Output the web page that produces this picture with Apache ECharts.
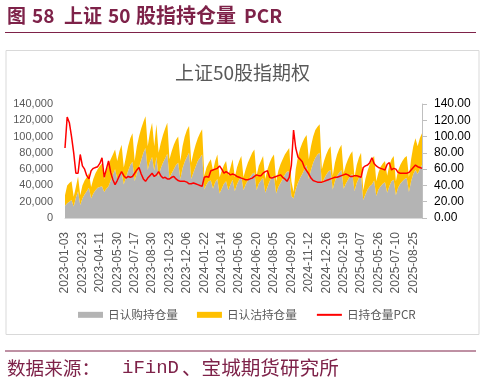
<!DOCTYPE html>
<html>
<head>
<meta charset="utf-8">
<script src="https://cdn.jsdelivr.net/npm/echarts@6/dist/echarts.min.js"></script>
<style>
html,body{margin:0;padding:0;background:#fff;}
#chart{width:485px;height:382px;}
</style>
</head>
<body>
<div id="chart"></div>
<script>
// Tick labels shown on the category axis (every 8th sample; samples every 4 trading days)
const tickLabels = ['2023-01-03','2023-02-23','2023-04-11','2023-05-30','2023-07-17','2023-08-30','2023-10-23','2023-12-06','2024-01-22','2024-03-14','2024-05-06','2024-06-20','2024-08-05','2024-09-20','2024-11-12','2024-12-26','2025-02-19','2025-04-07','2025-05-26','2025-07-10','2025-08-25'];

// 日认购持仓量 (call open interest)
const callOI = [
15000,18000,20000,22000,14000,25000,33000,16000,24000,29000,33000,37000,24000,30000,34000,37000,38000,39000,32000,36000,
39000,46000,53000,60000,48000,54000,57000,41000,50000,58000,65000,69000,45000,55000,62000,71000,80000,86000,59000,69000,
75000,58000,75000,51000,61000,68000,73000,79000,49000,55000,60000,65000,68000,48000,61000,69000,75000,80000,48000,56000,
63000,70000,74000,78000,35000,41000,45000,46000,36000,44000,48000,30000,36000,42000,45000,34000,41000,47000,33000,41000,
47000,51000,34000,41000,46000,50000,54000,56000,34000,42000,46000,49000,31000,38000,45000,50000,52000,30000,38000,43000,
48000,53000,57000,57000,27000,24000,35000,43000,49000,54000,60000,65000,48000,59000,68000,74000,78000,80000,42000,48000,
53000,57000,59000,35000,45000,52000,56000,59000,36000,42000,47000,52000,54000,33000,43000,49000,53000,22000,29000,35000,
39000,41000,46000,27000,35000,39000,42000,44000,31000,39000,45000,47000,28000,37000,42000,45000,48000,49000,32000,45000,
54000,59000,54000,60000,65000];

// 日认沽持仓量 (put open interest)
const putOI = [
13000,22000,23000,23000,12000,13000,18000,12000,16000,17000,17000,18000,14000,18000,21000,23000,26000,28000,16000,22000,
27000,26000,25000,24000,22000,28000,33000,21000,25000,30000,33000,35000,25000,33000,38000,39000,38000,39000,29000,36000,
42000,30000,40000,29000,31000,34000,37000,38000,23000,27000,30000,31000,32000,22000,27000,31000,33000,33000,20000,24000,
27000,28000,30000,31000,17000,21000,23000,26000,22000,26000,30000,20000,22000,23000,25000,18000,21000,25000,17000,21000,
23000,25000,16000,19000,22000,24000,26000,28000,18000,22000,24000,27000,17000,22000,23000,24000,26000,15000,20000,23000,
24000,25000,25000,29000,18000,8000,25000,32000,36000,38000,38000,37000,24000,29000,32000,34000,34000,35000,18000,22000,
25000,27000,29000,17000,23000,26000,29000,31000,19000,23000,25000,26000,28000,17000,22000,25000,27000,12000,19000,23000,
27000,31000,30000,18000,21000,24000,25000,26000,21000,26000,27000,29000,17000,21000,23000,25000,26000,27000,18000,27000,
34000,39000,34000,38000,39000];

// 日持仓量PCR
const pcr = [
86,124,117,100,80,55,55,78,64,60,52,48,58,61,62,63,67,74,50,60,
70,56,47,41,46,52,57,52,49,51,50,51,55,59,62,54,48,45,49,52,
55,51,53,57,52,49,50,48,48,50,51,48,46,45,45,45,44,42,42,43,
42,41,40,39,50,51,50,58,59,60,61,64,60,55,57,55,53,54,53,51,
50,49,48,47,47,48,49,51,53,52,52,55,57,58,50,49,50,51,52,53,
50,48,45,50,65,108,86,75,72,69,62,58,54,49,46,45,44,44,44,45,
46,47,48,49,50,50,51,52,53,54,53,51,51,52,52,51,50,62,64,65,
68,74,67,64,62,61,60,59,66,68,59,61,60,56,55,55,55,55,56,59,
62,65,63,62,61];

const seriesNames = ['日认购持仓量','日认沽持仓量','日持仓量PCR'];

const categories = callOI.map((_, i) => (i % 8 === 0 && tickLabels[i / 8]) ? tickLabels[i / 8] : '');

const MAROON = '#7e2249';
const CJK = '"Noto Sans CJK SC", "Noto Sans", sans-serif';
const LAT = '"Liberation Sans", "Noto Sans CJK SC", sans-serif';
const MONO = '"Liberation Mono", "DejaVu Sans Mono", monospace';

function headText(x, text, font) {
  return {type: 'text', x: x, y: 15.5, style: {text: text, font: font, fill: MAROON, textVerticalAlign: 'middle'}};
}
function footText(x, text, font) {
  return {type: 'text', x: x, y: 368, style: {text: text, font: font, fill: MAROON, textVerticalAlign: 'middle'}};
}

const chart = echarts.init(document.getElementById('chart'), null, {renderer: 'canvas'});
chart.setOption({
  animation: false,
  backgroundColor: '#ffffff',
  graphic: [
    headText(7, '图', 'bold 19px ' + CJK),
    headText(32, '58', 'bold 19px ' + CJK),
    headText(64, '上证', 'bold 19px ' + CJK),
    headText(108, '50', 'bold 19px ' + CJK),
    headText(136, '股指持仓量', 'bold 20px ' + CJK),
    headText(244, 'PCR', 'bold 19px ' + CJK),
    {type: 'line', shape: {x1: 5, y1: 32.5, x2: 476, y2: 32.5}, style: {stroke: MAROON, lineWidth: 1}},
    {type: 'rect', shape: {x: 6, y: 50.5, width: 473, height: 284}, style: {fill: 'none', stroke: '#d9d9d9', lineWidth: 1}, z: -1},
    {type: 'text', x: 242.5, y: 73, style: {text: '上证50股指期权', font: '19px ' + CJK, fill: '#595959', textAlign: 'center', textVerticalAlign: 'middle'}},
    {type: 'line', shape: {x1: 5, y1: 351, x2: 476, y2: 351}, style: {stroke: MAROON, lineWidth: 1}},
    footText(7, '数据来源：', '18.6px ' + CJK),
    footText(122, 'iFinD', '19px ' + MONO),
    footText(182, '、宝城期货研究所', '19.6px ' + CJK)
  ],
  legend: {
    left: 78, top: 309, padding: 0, itemWidth: 25, itemHeight: 6, itemGap: 19,
    textStyle: {fontSize: 11.67, color: '#595959', fontFamily: CJK},
    data: [
      {name: seriesNames[0], icon: 'rect'},
      {name: seriesNames[1], icon: 'rect'},
      {name: seriesNames[2], itemStyle: {color: 'rgba(0,0,0,0)', borderColor: 'rgba(0,0,0,0)', borderWidth: 0}}
    ]
  },
  grid: {left: 65, right: 63, top: 104, bottom: 164, containLabel: false},
  xAxis: {
    type: 'category', data: categories, boundaryGap: false,
    axisLine: {show: true, lineStyle: {color: '#d9d9d9'}},
    axisTick: {show: false},
    axisLabel: {interval: 7, rotate: 90, fontSize: 12, color: '#595959', margin: 14, fontFamily: LAT}
  },
  yAxis: [
    {
      type: 'value', min: 0, max: 140000, interval: 20000,
      axisLine: {show: false}, axisTick: {show: false}, splitLine: {show: false},
      axisLabel: {fontSize: 11, color: '#595959', margin: 12, fontFamily: LAT,
        formatter: v => v.toLocaleString('en-US')}
    },
    {
      type: 'value', min: 0, max: 140, interval: 20, position: 'right',
      axisLine: {show: true, lineStyle: {color: '#bfbfbf'}},
      axisTick: {show: true, length: 5, lineStyle: {color: '#bfbfbf'}},
      splitLine: {show: false},
      axisLabel: {fontSize: 12, color: '#000000', margin: 12, fontFamily: LAT,
        formatter: v => v.toFixed(2)}
    }
  ],
  series: [
    {name: seriesNames[0], type: 'line', stack: 'oi', data: callOI, symbol: 'none', color: '#b4b4b4',
     lineStyle: {width: 0}, areaStyle: {color: '#b4b4b4', opacity: 1}},
    {name: seriesNames[1], type: 'line', stack: 'oi', data: putOI, symbol: 'none', color: '#ffc000',
     lineStyle: {width: 0}, areaStyle: {color: '#ffc000', opacity: 1}},
    {name: seriesNames[2], type: 'line', yAxisIndex: 1, data: pcr, symbol: 'none', color: '#ff0000',
     lineStyle: {width: 1.5, color: '#ff0000'}}
  ]
});
</script>
</body>
</html>
